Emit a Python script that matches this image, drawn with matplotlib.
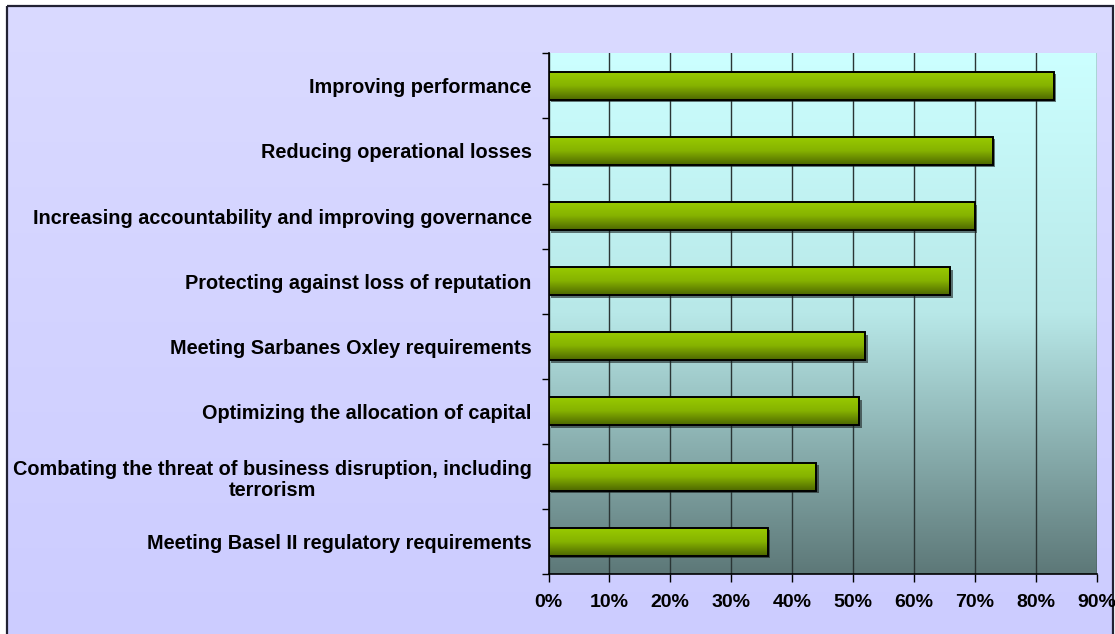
import numpy as np
import matplotlib
matplotlib.use("Agg")
import matplotlib.pyplot as plt
from matplotlib.patches import Rectangle
from matplotlib.colors import LinearSegmentedColormap
import matplotlib.transforms as mtransforms

categories = [
    "Improving performance",
    "Reducing operational losses",
    "Increasing accountability and improving governance",
    "Protecting against loss of reputation",
    "Meeting Sarbanes Oxley requirements",
    "Optimizing the allocation of capital",
    "Combating the threat of business disruption, including\nterrorism",
    "Meeting Basel II regulatory requirements",
]
values = [83, 73, 70, 66, 52, 51, 44, 36]
xticks = [0, 10, 20, 30, 40, 50, 60, 70, 80, 90]
xticklabels = [f"{t}%" for t in xticks]

plt.rcParams['font.family'] = ['Liberation Sans', 'DejaVu Sans']

W, H = 1115, 634
fig = plt.figure(figsize=(W / 100, H / 100), dpi=100)
fig.patch.set_facecolor('white')

# figure background gradient with border
bg = fig.add_axes([0, 0, 1, 1], zorder=-10)
bg.set_xlim(0, W)
bg.set_ylim(H, 0)
bg.axis('off')
fig_cmap = LinearSegmentedColormap.from_list('figbg', ['#DADAFF', '#CCCCFF'])
grad = np.linspace(0, 1, 256).reshape(-1, 1)
bg.imshow(grad, cmap=fig_cmap, aspect='auto', extent=[7, 1113, H + 5, 6], zorder=0)
bg.add_patch(Rectangle((7, 6), 1106, H + 10, fill=False, edgecolor='#222233', lw=1.6, zorder=1))

left, right, top, bottom = 548.5, 1096.5, 53.3, 574.3
ax = fig.add_axes([left / W, 1 - bottom / H, (right - left) / W, (bottom - top) / H])
ax.patch.set_alpha(0)

n = len(categories)
ypos = np.arange(n)

# plot area gradient
pa_cmap = LinearSegmentedColormap.from_list('pa', ['#CCFFFF', '#B8E8E8', '#5D7878'])
ax.imshow(grad, cmap=pa_cmap, aspect='auto', extent=[0, 1, 0, 1],
          transform=ax.transAxes, zorder=0)

# gridlines
ax.set_xticks(xticks)
ax.set_xticklabels(xticklabels, fontsize=14, fontweight='bold')
ax.xaxis.grid(True, color='#2A3535', lw=1.0, zorder=1)
ax.set_axisbelow(True)

bar_cmap = LinearSegmentedColormap.from_list('bar', ['#9ACC00', '#86B300', '#4D6600'])
bh = 0.43
bars = ax.barh(ypos, values, height=bh, facecolor='none', edgecolor='black', lw=1.4, zorder=4)
for b in bars:
    x0, y0 = b.get_x(), b.get_y()
    w, h = b.get_width(), b.get_height()
    sh = Rectangle((x0, y0), w, h, facecolor='#1A2020', edgecolor='none', alpha=0.6, zorder=2,
                   transform=ax.transData + mtransforms.ScaledTranslation(2.5 / 100, -2.5 / 100, fig.dpi_scale_trans))
    ax.add_patch(sh)
    im = ax.imshow(grad, cmap=bar_cmap, aspect='auto', extent=[x0, x0 + w, y0 + h, y0], zorder=3)
    im.set_clip_path(b)

ax.set_xlim(0, 90)
ax.set_ylim(n - 0.5, -0.5)

# y ticks at category boundaries
ax.set_yticks(np.arange(-0.5, n, 1.0))
ax.set_yticklabels([])
ax.set_yticks(ypos, minor=True)
ax.set_yticklabels(categories, minor=True, fontsize=14.3, fontweight='bold',
                   multialignment='center', linespacing=1.15)
ax.tick_params(axis='y', which='minor', length=0, pad=12)
ax.tick_params(axis='y', which='major', length=5, width=1, direction='out', color='black')
ax.tick_params(axis='x', length=6, width=1, direction='out', color='black', pad=8)

for s in ['top', 'right']:
    ax.spines[s].set_visible(False)
ax.spines['left'].set_color('black')
ax.spines['bottom'].set_color('black')
ax.spines['left'].set_linewidth(1.2)
ax.spines['bottom'].set_linewidth(1.2)

fig.savefig('out.png', dpi=100, facecolor=fig.get_facecolor())
